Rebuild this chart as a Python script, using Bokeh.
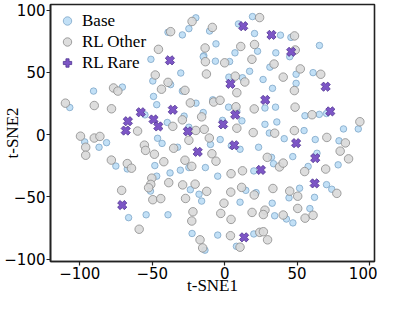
import math
from bokeh.plotting import figure
from bokeh.models import FixedTicker, Legend, LegendItem, Range1d
from bokeh.embed import file_html
from bokeh.resources import INLINE

# ---- data ----
base_x = [-39.1, -29.2, -24.7, -19.9, -10.4, -50.9, -14.4, -30.3, -49.6, -37.3,
          -70.6, -90.5, -29.2, -49.1, -106.9, -46.9, -19.8, -8.2, -55.0, -39.6,
          -28.0, -14.8, -24.7, -96.6, -86.7, -81.5, -46.3, -43.2, -32.5, -9.8,
          -75.1, -67.2, -48.2, -24.7, -13.3, -30.6, -37.7, -46.9, -51.2, -23.7,
          -17.7, -15.9, -66.3, -54.2, -39.1, -22.5, -13.6, 19.2, 9.5, 20.6,
          38.5, 45.7, -6.0, 22.7, 7.1, 35.3, 44.9, 65.4, -6.4, 3.4,
          31.2, -14.8, 17.2, 49.3, 61.0, 2.9, 12.3, 26.5, 49.3, 33.0,
          2.7, 8.4, 27.8, 35.1, 55.4, 65.3, 70.3, 11.9, -1.5, 27.8,
          36.0, 30.8, 54.8, 82.0, 92.2, -3.1, 4.6, 10.6, 23.4, 41.1,
          62.5, 78.9, 63.7, 32.3, 33.7, 47.0, 57.6, 78.3, 20.1, -4.8,
          70.3, 73.9, 14.6, 21.7, 51.7, 44.4, 62.0, 10.6, 32.8, 34.5,
          42.6, 58.8, 47.1, -4.8, 20.1, 8.1]
base_y = [82.2, 80.1, 85.1, 93.8, 83.2, 60.5, 63.4, 49.5, 43.1, 40.2,
          38.2, 35.0, 35.0, 30.7, 21.8, 24.1, 25.3, 28.0, 15.9, 9.8,
          14.9, 17.8, 6.0, -5.8, -10.1, -6.4, -2.9, -7.0, -10.1, -7.8,
          -25.2, -27.5, -24.8, -26.4, -26.4, -28.5, -30.7, -33.3, -45.3, -44.2,
          -47.8, -53.3, -66.6, -64.3, -64.3, -79.3, -92.7, 94.8, 88.9, 81.2,
          79.9, 78.1, 72.9, 67.0, 65.7, 65.7, 62.6, 71.6, 59.0, 58.7,
          54.2, 62.6, 50.9, 48.5, 49.8, 46.2, 45.7, 44.3, 41.2, 37.2,
          22.1, 19.0, 21.4, 22.1, 15.2, 16.3, 17.0, 11.1, 11.5, 8.3,
          10.2, 1.3, 3.3, 4.6, 4.6, -3.9, -8.9, -11.7, -10.1, -3.2,
          -3.9, -4.9, -14.9, -18.2, -23.3, -17.6, -25.5, -24.2, -29.1, -33.3,
          -40.1, -43.8, -44.7, -46.5, -43.0, -50.7, -50.3, -54.2, -55.0, -65.1,
          -67.7, -59.3, -70.8, -80.6, -79.7, -89.6]

other_x = [-37.3, -22.5, -45.7, -13.5, -13.3, -47.9, -39.1, -43.6, -27.4, -12.6,
           -76.7, -73.7, -109.9, -90.0, -78.1, -23.7, -60.1, -35.8, -29.2, -15.9,
           -19.9, -14.1, -99.5, -95.9, -95.9, -90.0, -86.1, -55.4, -54.6, -48.5,
           -35.2, -24.7, -10.6, -8.8, -78.2, -67.2, -64.3, -42.0, -27.4, -22.7,
           -50.3, -51.0, -52.5, -38.6, -29.0, -20.4, -12.4, -71.1, -49.6, -44.1,
           -27.0, -21.9, -22.7, -59.0, -17.0, -15.2, 24.1, -8.5, 48.2, 11.1,
           20.6, 48.7, 18.8, 0.0, 34.1, 52.2, 66.3, 40.4, 7.3, 13.9,
           48.1, 8.4, -7.6, -3.2, 7.8, 20.4, 48.6, 60.3, 8.4, 19.7,
           34.5, 48.1, 93.3, 70.5, 83.3, 79.7, -6.0, 29.4, 37.8, 40.4,
           55.2, 85.5, 69.7, 12.3, 4.4, 33.3, 11.7, 4.2, 20.4, 44.9,
           50.4, 77.4, -0.5, -2.7, 4.4, 18.9, 27.8, 26.7, 40.4, 50.4,
           55.5, 61.0, 4.0, 24.2, 26.7, 29.6, 10.6]
other_y = [82.7, 90.9, 68.5, 69.6, 58.6, 47.9, 42.0, 36.5, 35.6, 48.7,
           37.5, 35.0, 25.3, 23.4, 20.8, 25.5, 2.9, 6.7, 11.9, 14.3,
           3.4, 4.3, -1.2, -10.1, -16.5, -2.7, -1.4, -8.4, -12.6, -15.7,
           -10.9, -4.5, -2.7, -15.3, -20.4, -23.2, -26.9, -21.7, -20.5, -25.4,
           -34.9, -39.9, -42.6, -38.5, -40.3, -39.7, -45.5, -44.7, -52.2, -51.3,
           -51.2, -61.9, -69.3, -75.9, -84.4, -90.9, 94.0, 86.1, 79.3, 70.8,
           72.4, 68.0, 60.5, 57.7, 56.7, 52.8, 48.5, 46.2, 47.0, 42.3,
           35.4, 33.7, 26.2, 27.6, 22.4, 20.7, 22.1, 16.0, 5.2, 1.7,
           1.2, 3.3, 10.4, -2.2, -6.6, -13.2, -21.3, -18.2, -25.9, -22.8,
           -29.6, -19.4, -27.6, -29.0, -31.3, -43.2, -42.3, -46.1, -48.4, -45.3,
           -49.4, -47.1, -55.0, -63.2, -68.0, -62.4, -60.6, -64.1, -64.5, -59.2,
           -67.0, -64.7, -81.1, -78.4, -77.9, -84.4, -90.3]

rare_x = [-37.8, -66.8, -68.3, -57.9, -49.1, -45.8, -35.8, -25.4, -18.6, -70.7,
          12.8, 32.3, 45.9, 4.0, 69.7, 28.0, 7.3, 72.9, -1.1, 6.6,
          49.3, 25.0, 62.5, 62.1, 13.4]
rare_y = [59.7, 10.8, 3.3, 18.0, 12.2, 6.6, 20.0, 2.7, -13.8, -56.5,
          87.1, 80.1, 66.5, 40.8, 38.5, 27.9, 16.0, 18.7, 8.3, -8.5,
          -6.8, -28.3, -18.8, -39.1, -82.4]

tick_values = [-100, -50, 0, 50, 100]
tick_labels = ["\u2212100", "\u221250", "0", "50", "100"]
series_names = ["Base", "RL Other", "RL Rare"]

# ---- figure ----
p = figure(width=377, height=297, output_backend="svg", toolbar_location=None,
           x_range=Range1d(-120.2, 103.4), y_range=Range1d(-101.8, 104.5),
           min_border_left=46, min_border_right=3, min_border_top=4,
           min_border_bottom=0)
p.background_fill_color = "white"
p.border_fill_color = "white"
p.outline_line_color = "#222222"
p.outline_line_width = 1.6
p.grid.visible = False

r_base = p.scatter(base_x, base_y, marker="circle", size=6.5,
                   fill_color="#c2e0f6", line_color="#7ea6c8", line_width=0.8)
r_other = p.scatter(other_x, other_y, marker="circle", size=8.5,
                    fill_color="#d9d9d9", fill_alpha=0.9,
                    line_color="#8a8a8a", line_width=0.8)
r_rare = p.scatter(rare_x, rare_y, marker="plus", angle=math.pi / 4, size=9.5,
                   fill_color="#7d56c6", line_color="#4e3290", line_width=0.8)

overrides = {v: s for v, s in zip(tick_values, tick_labels)}
for ax in (p.xaxis[0], p.yaxis[0]):
    ax.ticker = FixedTicker(ticks=tick_values)
    ax.major_label_overrides = overrides
    ax.minor_tick_line_color = None
    ax.major_tick_in = 0
    ax.major_tick_out = 4
    ax.major_tick_line_color = "#222222"
    ax.major_tick_line_width = 1.2
    ax.axis_line_color = "#222222"
    ax.axis_line_width = 1.6
    ax.major_label_text_font = "DejaVu Sans"
    ax.major_label_text_font_size = "15px"
    ax.major_label_text_color = "black"
    ax.axis_label_text_font = "Liberation Serif"
    ax.axis_label_text_font_size = "17px"
    ax.axis_label_text_font_style = "normal"
    ax.axis_label_text_color = "black"

p.xaxis.axis_label = "t-SNE1"
p.yaxis.axis_label = "t-SNE2"
p.xaxis.major_label_standoff = 1
p.xaxis.axis_label_standoff = -6
p.yaxis.major_label_standoff = 1
p.yaxis.axis_label_standoff = -21

legend = Legend(items=[LegendItem(label=series_names[0], renderers=[r_base]),
                       LegendItem(label=series_names[1], renderers=[r_other]),
                       LegendItem(label=series_names[2], renderers=[r_rare])],
                location="top_left")
legend.label_text_font = "Liberation Serif"
legend.label_text_font_size = "17px"
legend.label_text_color = "black"
legend.glyph_width = 22
legend.glyph_height = 21
legend.label_height = 21
legend.spacing = 0
legend.padding = 3
legend.margin = 6
legend.label_standoff = 4
legend.border_line_color = None
legend.background_fill_alpha = 0
p.add_layout(legend)

open("out.html", "w").write(file_html(p, INLINE))
